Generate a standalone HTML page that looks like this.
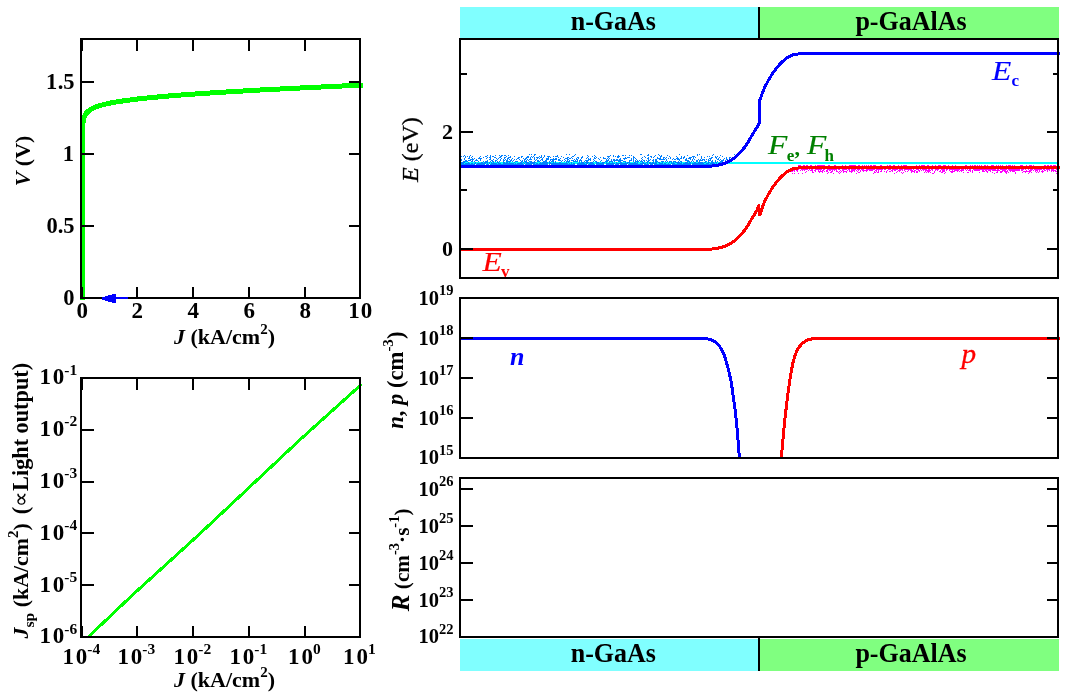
<!DOCTYPE html>
<html><head><meta charset="utf-8"><title>LED simulation</title>
<style>
html,body{margin:0;padding:0;background:#fff;}
svg{display:block;}
text{font-family:"Liberation Serif","Times New Roman",serif;}
.b{font-weight:bold;}
.i{font-style:italic;}
.ax{stroke:#000;stroke-width:2;fill:none;shape-rendering:crispEdges;}
</style></head><body>
<svg width="1065" height="696" viewBox="0 0 1065 696">
<rect width="1065" height="696" fill="#fff"/>
<line class="ax" x1="82" y1="39" x2="82" y2="51"/>
<line class="ax" x1="82" y1="287" x2="82" y2="298"/>
<line class="ax" x1="137" y1="39" x2="137" y2="51"/>
<line class="ax" x1="137" y1="287" x2="137" y2="298"/>
<line class="ax" x1="193" y1="39" x2="193" y2="51"/>
<line class="ax" x1="193" y1="287" x2="193" y2="298"/>
<line class="ax" x1="249" y1="39" x2="249" y2="51"/>
<line class="ax" x1="249" y1="287" x2="249" y2="298"/>
<line class="ax" x1="305" y1="39" x2="305" y2="51"/>
<line class="ax" x1="305" y1="287" x2="305" y2="298"/>
<line class="ax" x1="349" y1="82" x2="360" y2="82"/>
<line class="ax" x1="349" y1="154" x2="360" y2="154"/>
<line class="ax" x1="349" y1="226" x2="360" y2="226"/>
<path d="M82.5,300.0 L82.5,170.6 L82.5,170.0 L82.5,169.5 L82.5,168.9 L82.5,168.3 L82.5,167.8 L82.5,167.2 L82.5,166.7 L82.5,166.1 L82.5,165.6 L82.5,165.0 L82.5,164.4 L82.5,163.9 L82.5,163.3 L82.5,162.8 L82.5,162.2 L82.5,161.7 L82.5,161.1 L82.5,160.6 L82.5,160.0 L82.5,159.4 L82.5,158.9 L82.5,158.3 L82.5,157.8 L82.5,157.2 L82.5,156.7 L82.5,156.1 L82.5,155.5 L82.5,155.0 L82.5,154.4 L82.5,153.9 L82.5,153.3 L82.5,152.8 L82.5,152.2 L82.5,151.7 L82.5,151.1 L82.5,150.5 L82.5,150.0 L82.5,149.4 L82.5,148.9 L82.5,148.3 L82.5,147.8 L82.5,147.2 L82.5,146.6 L82.5,146.1 L82.5,145.5 L82.5,145.0 L82.5,144.4 L82.5,143.9 L82.5,143.3 L82.5,142.7 L82.5,142.2 L82.5,141.6 L82.5,141.1 L82.5,140.5 L82.5,140.0 L82.5,139.4 L82.5,138.9 L82.5,138.3 L82.5,137.7 L82.5,137.2 L82.5,136.6 L82.5,136.1 L82.5,135.5 L82.5,135.0 L82.5,134.4 L82.6,133.8 L82.6,133.3 L82.6,132.7 L82.6,132.2 L82.6,131.6 L82.6,131.1 L82.6,130.5 L82.6,129.9 L82.6,129.4 L82.7,128.8 L82.7,128.3 L82.7,127.7 L82.7,127.2 L82.7,126.6 L82.8,126.0 L82.8,125.5 L82.9,124.9 L82.9,124.4 L82.9,123.8 L83.0,123.3 L83.1,122.7 L83.1,122.1 L83.2,121.6 L83.3,121.0 L83.4,120.5 L83.5,119.9 L83.6,119.3 L83.7,118.8 L83.9,118.2 L84.1,117.7 L84.3,117.1 L84.5,116.5 L84.7,116.0 L85.0,115.4 L85.3,114.8 L85.6,114.3 L86.0,113.7 L86.4,113.1 L86.9,112.6 L87.5,112.0 L88.1,111.4 L88.7,110.9 L89.5,110.3 L90.4,109.7 L91.3,109.1 L92.4,108.5 L93.6,107.9 L95.0,107.4 L96.5,106.8 L98.2,106.2 L100.1,105.5 L102.3,104.9 L104.7,104.3 L107.4,103.7 L110.4,103.0 L113.8,102.4 L117.6,101.7 L121.9,101.1 L126.7,100.4 L132.1,99.7 L138.2,98.9 L145.0,98.2 L152.6,97.4 L161.1,96.7 L170.7,95.8 L181.5,95.0 L193.6,94.1 L207.1,93.2 L222.3,92.2 L239.4,91.2 L258.5,90.1 L280.0,89.0 L304.1,87.8 L331.2,86.5 L361.5,85.1 L363.0,85.0" fill="none" stroke="#00ff00" stroke-width="5" stroke-linejoin="round" stroke-linecap="butt" shape-rendering="crispEdges"/>
<line class="ax" x1="81" y1="82" x2="94" y2="82"/>
<line class="ax" x1="81" y1="154" x2="94" y2="154"/>
<line class="ax" x1="81" y1="226" x2="94" y2="226"/>
<line class="ax" x1="82" y1="39" x2="82" y2="51"/>
<line class="ax" x1="82" y1="287" x2="82" y2="298"/>
<rect class="ax" x="81" y="39" width="279" height="259"/>
<path d="M102,297h3v-1h3v-1h4v-1h4v3h12v2h-12v4h-4v-1h-4v-1h-3v-1h-3z" fill="#0000ff" shape-rendering="crispEdges"/>
<text class="b" x="74.5" y="304.8" font-size="22.5" text-anchor="end">0</text>
<text class="b" x="74.5" y="232.8" font-size="22.5" text-anchor="end">0.5</text>
<text class="b" x="74.5" y="160.8" font-size="22.5" text-anchor="end"><tspan letter-spacing="0.4">1</tspan></text>
<text class="b" x="74.5" y="88.8" font-size="22.5" text-anchor="end"><tspan letter-spacing="0.4">1</tspan>.5</text>
<text class="b" x="82.3" y="318.2" font-size="23" text-anchor="middle">0</text>
<text class="b" x="137.3" y="318.2" font-size="23" text-anchor="middle">2</text>
<text class="b" x="193.3" y="318.2" font-size="23" text-anchor="middle">4</text>
<text class="b" x="249.3" y="318.2" font-size="23" text-anchor="middle">6</text>
<text class="b" x="305.3" y="318.2" font-size="23" text-anchor="middle">8</text>
<text class="b" x="360.3" y="318.2" font-size="23" text-anchor="middle"><tspan letter-spacing="1">1</tspan>0</text>
<text class="b" x="224.5" y="344" font-size="22" text-anchor="middle"><tspan class="i">J</tspan> (kA/cm<tspan font-size="15" dy="-10.5">2</tspan><tspan dy="10.5">)</tspan></text>
<text class="b" transform="translate(29.7,161) rotate(-90)" font-size="22" text-anchor="middle"><tspan class="i">V</tspan> (V)</text>
<line class="ax" x1="82" y1="378" x2="82" y2="390"/>
<line class="ax" x1="82" y1="626" x2="82" y2="637"/>
<line class="ax" x1="137" y1="378" x2="137" y2="390"/>
<line class="ax" x1="137" y1="626" x2="137" y2="637"/>
<line class="ax" x1="193" y1="378" x2="193" y2="390"/>
<line class="ax" x1="193" y1="626" x2="193" y2="637"/>
<line class="ax" x1="249" y1="378" x2="249" y2="390"/>
<line class="ax" x1="249" y1="626" x2="249" y2="637"/>
<line class="ax" x1="305" y1="378" x2="305" y2="390"/>
<line class="ax" x1="305" y1="626" x2="305" y2="637"/>
<line class="ax" x1="81" y1="430" x2="94" y2="430"/>
<line class="ax" x1="349" y1="430" x2="360" y2="430"/>
<line class="ax" x1="81" y1="482" x2="94" y2="482"/>
<line class="ax" x1="349" y1="482" x2="360" y2="482"/>
<line class="ax" x1="81" y1="533" x2="94" y2="533"/>
<line class="ax" x1="349" y1="533" x2="360" y2="533"/>
<line class="ax" x1="81" y1="585" x2="94" y2="585"/>
<line class="ax" x1="349" y1="585" x2="360" y2="585"/>
<path d="M88.5,636.8 L131.5,595.9 L199.7,533.9 L300,439.7 L361.5,384.3" fill="none" stroke="#00ff00" stroke-width="3" shape-rendering="crispEdges"/>
<rect class="ax" x="81" y="378" width="279" height="259"/>
<text class="b" transform="translate(39.5,384.3) scale(1.0,1)" font-size="23" text-anchor="start"><tspan letter-spacing="1.8">1</tspan>0<tspan font-size="15.5" dy="-9.8">-1</tspan></text>
<text class="b" transform="translate(39.5,436.1) scale(1.0,1)" font-size="23" text-anchor="start"><tspan letter-spacing="1.8">1</tspan>0<tspan font-size="15.5" dy="-9.8">-2</tspan></text>
<text class="b" transform="translate(39.5,487.9) scale(1.0,1)" font-size="23" text-anchor="start"><tspan letter-spacing="1.8">1</tspan>0<tspan font-size="15.5" dy="-9.8">-3</tspan></text>
<text class="b" transform="translate(39.5,539.7) scale(1.0,1)" font-size="23" text-anchor="start"><tspan letter-spacing="1.8">1</tspan>0<tspan font-size="15.5" dy="-9.8">-4</tspan></text>
<text class="b" transform="translate(39.5,591.5) scale(1.0,1)" font-size="23" text-anchor="start"><tspan letter-spacing="1.8">1</tspan>0<tspan font-size="15.5" dy="-9.8">-5</tspan></text>
<text class="b" transform="translate(39.5,643.3) scale(1.0,1)" font-size="23" text-anchor="start"><tspan letter-spacing="1.8">1</tspan>0<tspan font-size="15.5" dy="-9.8">-6</tspan></text>
<text class="b" transform="translate(81.4,663.8) scale(1.0,1)" font-size="23" text-anchor="middle"><tspan letter-spacing="1.8">1</tspan>0<tspan font-size="15.5" dy="-9.8">-4</tspan></text>
<text class="b" transform="translate(136.4,663.8) scale(1.0,1)" font-size="23" text-anchor="middle"><tspan letter-spacing="1.8">1</tspan>0<tspan font-size="15.5" dy="-9.8">-3</tspan></text>
<text class="b" transform="translate(192.4,663.8) scale(1.0,1)" font-size="23" text-anchor="middle"><tspan letter-spacing="1.8">1</tspan>0<tspan font-size="15.5" dy="-9.8">-2</tspan></text>
<text class="b" transform="translate(248.4,663.8) scale(1.0,1)" font-size="23" text-anchor="middle"><tspan letter-spacing="1.8">1</tspan>0<tspan font-size="15.5" dy="-9.8">-1</tspan></text>
<text class="b" transform="translate(304.4,663.8) scale(1.0,1)" font-size="23" text-anchor="middle"><tspan letter-spacing="1.8">1</tspan>0<tspan font-size="15.5" dy="-9.8">0</tspan></text>
<text class="b" transform="translate(359.4,663.8) scale(1.0,1)" font-size="23" text-anchor="middle"><tspan letter-spacing="1.8">1</tspan>0<tspan font-size="15.5" dy="-9.8">1</tspan></text>
<text class="b" x="224.5" y="687" font-size="22" text-anchor="middle"><tspan class="i">J</tspan> (kA/cm<tspan font-size="15" dy="-10.5">2</tspan><tspan dy="10.5">)</tspan></text>
<text class="b" transform="translate(28,638.4) rotate(-90)" font-size="21.9"><tspan class="i">J</tspan><tspan font-size="15.5" dy="6">sp</tspan><tspan dy="-6"> (kA/cm</tspan><tspan font-size="15" dy="-10.5">2</tspan><tspan dy="10.5">)</tspan></text>
<text class="b" transform="translate(28,362.9) rotate(-90)" font-size="22.25" text-anchor="end">(<tspan font-weight="normal">∝</tspan>Light output)</text>
<rect x="460" y="7" width="299" height="31" fill="#80ffff"/>
<rect x="759" y="7" width="300" height="31" fill="#80ff80"/>
<line class="ax" x1="759" y1="7" x2="759" y2="39"/>
<text class="b" transform="translate(613.3,30.2) scale(1,1.06)" font-size="26" text-anchor="middle">n-GaAs</text>
<text class="b" transform="translate(911,30.2) scale(1,1.06)" font-size="26" text-anchor="middle">p-GaAlAs</text>
<rect x="460" y="639" width="299" height="32" fill="#80ffff"/>
<rect x="759" y="639" width="300" height="32" fill="#80ff80"/>
<line class="ax" x1="759" y1="637" x2="759" y2="671"/>
<text class="b" transform="translate(613.3,661.5) scale(1,1.06)" font-size="26" text-anchor="middle">n-GaAs</text>
<text class="b" transform="translate(911,661.5) scale(1,1.06)" font-size="26" text-anchor="middle">p-GaAlAs</text>
<line x1="460" y1="163" x2="1058" y2="163" stroke="#00ffff" stroke-width="2" shape-rendering="crispEdges"/>
<path d="M529,154.5h1M531,154.5h1M534,154.5h2M566,154.5h1M569,154.5h1M575,154.5h1M640,154.5h2M648,154.5h1M658,154.5h1M679,154.5h1M697,154.5h1M699,154.5h1M713,154.5h1M734,154.5h1M464,155.5h1M470,155.5h1M487,155.5h1M490,155.5h1M495,155.5h1M499,155.5h1M501,155.5h2M504,155.5h2M508,155.5h1M534,155.5h1M541,155.5h1M544,155.5h1M557,155.5h1M574,155.5h1M587,155.5h1M594,155.5h1M610,155.5h1M613,155.5h1M618,155.5h1M622,155.5h2M625,155.5h1M629,155.5h1M631,155.5h1M647,155.5h2M655,155.5h1M659,155.5h1M661,155.5h1M667,155.5h1M687,155.5h1M697,155.5h1M712,155.5h1M720,155.5h1M461,156.5h1M463,156.5h1M465,156.5h1M467,156.5h1M469,156.5h1M472,156.5h1M480,156.5h1M485,156.5h2M490,156.5h1M492,156.5h2M500,156.5h2M506,156.5h1M510,156.5h1M514,156.5h1M521,156.5h2M527,156.5h2M531,156.5h1M533,156.5h1M539,156.5h1M541,156.5h1M544,156.5h1M547,156.5h3M553,156.5h1M555,156.5h3M561,156.5h1M572,156.5h2M582,156.5h1M588,156.5h1M592,156.5h1M595,156.5h1M607,156.5h3M613,156.5h1M615,156.5h1M617,156.5h3M633,156.5h1M644,156.5h1M650,156.5h2M654,156.5h1M660,156.5h2M669,156.5h1M676,156.5h1M681,156.5h1M684,156.5h1M692,156.5h3M701,156.5h1M707,156.5h1M709,156.5h1M715,156.5h1M717,156.5h1M722,156.5h1M465,157.5h1M469,157.5h1M471,157.5h1M479,157.5h1M483,157.5h1M487,157.5h1M489,157.5h2M494,157.5h2M499,157.5h2M504,157.5h2M508,157.5h3M518,157.5h2M521,157.5h1M526,157.5h3M530,157.5h1M532,157.5h1M534,157.5h1M536,157.5h3M540,157.5h2M543,157.5h1M548,157.5h1M550,157.5h1M558,157.5h1M563,157.5h1M567,157.5h2M571,157.5h1M577,157.5h2M581,157.5h2M587,157.5h1M594,157.5h1M596,157.5h1M600,157.5h1M603,157.5h1M608,157.5h1M617,157.5h2M625,157.5h1M627,157.5h3M633,157.5h2M642,157.5h1M645,157.5h1M648,157.5h1M651,157.5h1M653,157.5h1M657,157.5h1M660,157.5h1M663,157.5h2M666,157.5h1M670,157.5h1M677,157.5h1M681,157.5h1M683,157.5h2M689,157.5h3M693,157.5h1M695,157.5h1M701,157.5h1M704,157.5h1M711,157.5h2M715,157.5h2M719,157.5h1M726,157.5h1M729,157.5h2M464,158.5h1M468,158.5h2M472,158.5h1M474,158.5h1M478,158.5h4M486,158.5h1M490,158.5h1M496,158.5h1M498,158.5h1M501,158.5h1M504,158.5h1M507,158.5h2M512,158.5h1M517,158.5h2M523,158.5h1M525,158.5h2M530,158.5h1M534,158.5h1M537,158.5h1M539,158.5h1M542,158.5h1M546,158.5h3M553,158.5h1M555,158.5h2M560,158.5h1M565,158.5h3M569,158.5h2M572,158.5h1M576,158.5h1M578,158.5h1M581,158.5h1M586,158.5h1M588,158.5h1M590,158.5h1M594,158.5h2M598,158.5h1M603,158.5h3M607,158.5h1M609,158.5h1M620,158.5h1M623,158.5h4M631,158.5h1M633,158.5h1M635,158.5h1M641,158.5h1M647,158.5h2M657,158.5h4M663,158.5h1M665,158.5h1M668,158.5h1M670,158.5h1M673,158.5h1M676,158.5h3M680,158.5h2M683,158.5h1M686,158.5h1M688,158.5h3M693,158.5h1M701,158.5h1M709,158.5h3M716,158.5h1M718,158.5h1M724,158.5h1M726,158.5h1M729,158.5h1M461,159.5h1M464,159.5h1M470,159.5h4M476,159.5h1M480,159.5h1M489,159.5h2M493,159.5h1M497,159.5h1M500,159.5h1M503,159.5h1M505,159.5h1M507,159.5h1M509,159.5h1M511,159.5h1M514,159.5h1M516,159.5h1M519,159.5h1M524,159.5h2M527,159.5h1M529,159.5h3M534,159.5h1M536,159.5h1M541,159.5h2M546,159.5h3M550,159.5h7M558,159.5h2M564,159.5h1M567,159.5h2M574,159.5h1M576,159.5h2M580,159.5h1M588,159.5h3M593,159.5h1M599,159.5h1M606,159.5h1M608,159.5h1M611,159.5h1M613,159.5h2M616,159.5h2M619,159.5h2M624,159.5h1M631,159.5h1M633,159.5h1M636,159.5h1M642,159.5h1M648,159.5h1M650,159.5h1M653,159.5h1M655,159.5h2M659,159.5h6M666,159.5h1M672,159.5h1M674,159.5h2M677,159.5h3M685,159.5h2M690,159.5h1M692,159.5h1M694,159.5h1M698,159.5h1M700,159.5h1M702,159.5h3M706,159.5h1M708,159.5h1M710,159.5h1M717,159.5h2M720,159.5h1M723,159.5h1M726,159.5h2M729,159.5h2M461,160.5h1M465,160.5h2M468,160.5h3M472,160.5h1M475,160.5h3M480,160.5h1M487,160.5h1M491,160.5h2M495,160.5h2M500,160.5h1M503,160.5h2M506,160.5h2M510,160.5h2M513,160.5h1M520,160.5h1M522,160.5h1M524,160.5h1M526,160.5h1M528,160.5h1M535,160.5h1M537,160.5h2M540,160.5h1M542,160.5h1M545,160.5h2M550,160.5h1M552,160.5h2M558,160.5h3M562,160.5h1M565,160.5h1M567,160.5h1M569,160.5h1M571,160.5h3M575,160.5h1M577,160.5h1M579,160.5h3M585,160.5h4M590,160.5h1M594,160.5h1M601,160.5h1M606,160.5h3M611,160.5h1M613,160.5h10M629,160.5h3M633,160.5h1M635,160.5h1M637,160.5h1M639,160.5h1M641,160.5h1M643,160.5h2M646,160.5h1M648,160.5h2M652,160.5h2M655,160.5h2M666,160.5h1M679,160.5h1M685,160.5h4M692,160.5h1M696,160.5h2M699,160.5h4M704,160.5h1M708,160.5h3M712,160.5h1M715,160.5h1M719,160.5h1M721,160.5h3M725,160.5h1M728,160.5h1M463,161.5h5M471,161.5h2M474,161.5h1M478,161.5h1M483,161.5h1M485,161.5h3M490,161.5h1M492,161.5h2M495,161.5h1M497,161.5h1M499,161.5h1M503,161.5h1M506,161.5h5M512,161.5h1M515,161.5h3M521,161.5h2M524,161.5h3M529,161.5h3M534,161.5h1M537,161.5h3M543,161.5h4M549,161.5h1M551,161.5h3M555,161.5h1M561,161.5h1M564,161.5h1M566,161.5h4M573,161.5h5M579,161.5h1M581,161.5h1M584,161.5h1M586,161.5h2M593,161.5h1M595,161.5h2M600,161.5h1M605,161.5h3M609,161.5h4M614,161.5h1M618,161.5h3M623,161.5h3M629,161.5h1M633,161.5h1M635,161.5h4M640,161.5h3M644,161.5h1M647,161.5h2M653,161.5h1M655,161.5h3M661,161.5h3M665,161.5h1M667,161.5h1M669,161.5h3M673,161.5h3M678,161.5h1M680,161.5h2M687,161.5h3M691,161.5h1M693,161.5h1M696,161.5h2M699,161.5h1M705,161.5h2M708,161.5h1M711,161.5h2M715,161.5h1M717,161.5h1M720,161.5h3M461,162.5h4M468,162.5h1M475,162.5h1M481,162.5h2M484,162.5h4M489,162.5h1M491,162.5h1M493,162.5h1M497,162.5h2M503,162.5h2M506,162.5h2M509,162.5h1M514,162.5h1M520,162.5h2M523,162.5h1M525,162.5h4M530,162.5h6M540,162.5h1M542,162.5h6M549,162.5h2M553,162.5h1M555,162.5h1M559,162.5h2M566,162.5h1M568,162.5h1M571,162.5h1M579,162.5h1M581,162.5h3M585,162.5h4M590,162.5h3M596,162.5h3M602,162.5h3M606,162.5h1M609,162.5h1M612,162.5h1M616,162.5h1M620,162.5h2M625,162.5h1M627,162.5h3M634,162.5h2M637,162.5h1M642,162.5h2M646,162.5h2M649,162.5h2M652,162.5h2M655,162.5h2M658,162.5h2M662,162.5h1M666,162.5h1M669,162.5h1M671,162.5h1M673,162.5h1M675,162.5h5M681,162.5h1M685,162.5h3M689,162.5h2M694,162.5h2M698,162.5h5M704,162.5h2M708,162.5h2M711,162.5h3M715,162.5h2M719,162.5h3M723,162.5h1M461,163.5h3M465,163.5h5M471,163.5h2M474,163.5h2M477,163.5h9M487,163.5h1M489,163.5h1M491,163.5h6M498,163.5h3M503,163.5h11M515,163.5h1M517,163.5h6M524,163.5h1M526,163.5h9M536,163.5h2M539,163.5h9M549,163.5h19M569,163.5h1M571,163.5h1M573,163.5h2M577,163.5h8M586,163.5h2M589,163.5h5M596,163.5h8M606,163.5h9M616,163.5h12M629,163.5h9M640,163.5h6M647,163.5h1M649,163.5h8M659,163.5h4M664,163.5h2M668,163.5h1M671,163.5h4M677,163.5h5M683,163.5h8M692,163.5h12M706,163.5h3M710,163.5h5M716,163.5h1M718,163.5h2M461,164.5h14M476,164.5h9M486,164.5h3M490,164.5h34M525,164.5h7M533,164.5h15M549,164.5h1M551,164.5h24M577,164.5h10M588,164.5h7M596,164.5h8M606,164.5h8M615,164.5h4M620,164.5h7M628,164.5h15M644,164.5h5M650,164.5h3M654,164.5h17M672,164.5h19M692,164.5h23" stroke="#0080ff" stroke-width="1" fill="none" shape-rendering="crispEdges"/>
<path d="M798,165.5h3M803,165.5h2M806,165.5h2M810,165.5h2M815,165.5h1M817,165.5h8M828,165.5h2M834,165.5h2M842,165.5h1M845,165.5h1M849,165.5h7M858,165.5h2M862,165.5h1M864,165.5h1M866,165.5h1M868,165.5h1M870,165.5h2M873,165.5h3M880,165.5h2M887,165.5h1M889,165.5h2M893,165.5h2M898,165.5h1M901,165.5h1M903,165.5h4M916,165.5h1M919,165.5h1M921,165.5h4M927,165.5h2M932,165.5h1M935,165.5h1M938,165.5h3M943,165.5h3M948,165.5h1M952,165.5h1M955,165.5h1M965,165.5h2M970,165.5h1M972,165.5h1M974,165.5h2M977,165.5h1M979,165.5h1M981,165.5h1M984,165.5h2M987,165.5h1M991,165.5h3M996,165.5h1M998,165.5h1M1000,165.5h1M1002,165.5h1M1006,165.5h1M1008,165.5h3M1012,165.5h1M1014,165.5h1M1020,165.5h3M1026,165.5h1M1029,165.5h3M1033,165.5h1M1044,165.5h2M1047,165.5h2M1050,165.5h2M1053,165.5h3M791,169.5h8M801,169.5h7M809,169.5h1M811,169.5h2M815,169.5h7M823,169.5h2M827,169.5h10M838,169.5h2M842,169.5h5M848,169.5h2M851,169.5h5M857,169.5h3M861,169.5h3M866,169.5h9M876,169.5h7M884,169.5h2M888,169.5h3M892,169.5h6M899,169.5h4M904,169.5h8M913,169.5h1M916,169.5h3M920,169.5h1M922,169.5h5M928,169.5h2M931,169.5h2M935,169.5h4M941,169.5h4M946,169.5h2M949,169.5h11M961,169.5h3M965,169.5h1M967,169.5h1M969,169.5h2M973,169.5h23M997,169.5h2M1000,169.5h7M1008,169.5h12M1021,169.5h3M1025,169.5h1M1028,169.5h1M1030,169.5h3M1034,169.5h8M1043,169.5h2M1046,169.5h4M1051,169.5h3M1056,169.5h1M790,170.5h1M792,170.5h3M796,170.5h2M800,170.5h1M802,170.5h1M804,170.5h1M808,170.5h1M810,170.5h3M814,170.5h2M818,170.5h1M820,170.5h1M822,170.5h2M826,170.5h2M829,170.5h2M832,170.5h1M834,170.5h1M836,170.5h1M840,170.5h1M842,170.5h2M847,170.5h1M849,170.5h1M851,170.5h4M856,170.5h1M858,170.5h1M860,170.5h1M862,170.5h6M869,170.5h4M875,170.5h2M878,170.5h1M881,170.5h1M887,170.5h1M891,170.5h2M894,170.5h2M898,170.5h3M902,170.5h1M904,170.5h1M908,170.5h1M910,170.5h3M914,170.5h2M918,170.5h2M921,170.5h1M923,170.5h1M925,170.5h6M932,170.5h1M935,170.5h1M937,170.5h1M940,170.5h1M942,170.5h3M946,170.5h1M949,170.5h1M952,170.5h1M954,170.5h5M960,170.5h4M966,170.5h1M968,170.5h3M972,170.5h1M974,170.5h6M982,170.5h2M985,170.5h2M988,170.5h3M992,170.5h8M1002,170.5h4M1007,170.5h1M1009,170.5h11M1021,170.5h2M1026,170.5h1M1029,170.5h3M1033,170.5h1M1035,170.5h3M1039,170.5h1M1042,170.5h1M1044,170.5h2M1047,170.5h1M1049,170.5h1M1051,170.5h5M791,171.5h2M794,171.5h1M797,171.5h1M806,171.5h1M812,171.5h1M815,171.5h1M818,171.5h5M824,171.5h1M826,171.5h2M831,171.5h2M836,171.5h2M839,171.5h1M841,171.5h1M843,171.5h4M849,171.5h4M854,171.5h1M857,171.5h1M860,171.5h1M863,171.5h1M866,171.5h1M874,171.5h1M876,171.5h1M878,171.5h1M880,171.5h2M884,171.5h1M886,171.5h1M889,171.5h2M892,171.5h1M897,171.5h1M899,171.5h1M905,171.5h1M907,171.5h1M911,171.5h4M916,171.5h2M919,171.5h1M925,171.5h1M927,171.5h3M934,171.5h1M939,171.5h2M942,171.5h3M950,171.5h5M957,171.5h1M959,171.5h1M961,171.5h1M970,171.5h1M972,171.5h1M982,171.5h3M986,171.5h2M990,171.5h1M997,171.5h1M1000,171.5h3M1004,171.5h4M1010,171.5h1M1012,171.5h3M1023,171.5h8M1035,171.5h1M1037,171.5h1M1039,171.5h1M1041,171.5h3M1047,171.5h1M1051,171.5h1M1053,171.5h1M1055,171.5h2M805,172.5h1M812,172.5h2M819,172.5h1M822,172.5h1M828,172.5h1M830,172.5h2M838,172.5h1M840,172.5h1M843,172.5h1M846,172.5h1M851,172.5h1M858,172.5h2M874,172.5h2M877,172.5h2M886,172.5h1M896,172.5h1M901,172.5h1M903,172.5h1M911,172.5h1M914,172.5h1M916,172.5h2M924,172.5h1M926,172.5h1M928,172.5h1M930,172.5h1M934,172.5h1M941,172.5h2M945,172.5h1M951,172.5h2M963,172.5h1M967,172.5h2M972,172.5h1M979,172.5h1M987,172.5h1M992,172.5h1M996,172.5h2M1000,172.5h2M1005,172.5h2M1008,172.5h1M1015,172.5h1M1022,172.5h1M1025,172.5h1M1029,172.5h1M1031,172.5h1M1036,172.5h1M1038,172.5h1M1042,172.5h1M792,173.5h1M794,173.5h1M798,173.5h1M802,173.5h1M827,173.5h1M833,173.5h1M839,173.5h1M856,173.5h1M873,173.5h1M894,173.5h1M902,173.5h1M932,173.5h2M944,173.5h1M994,173.5h1M1006,173.5h1M1015,173.5h1M1028,173.5h1M1056,173.5h1" stroke="#ff00ff" stroke-width="1" fill="none" shape-rendering="crispEdges"/>
<path d="M460,166.5 L690,166.5  L690.0,166.5 C691.7,166.5 697.3,166.5 700.0,166.5 C702.7,166.5 703.7,166.5 706.0,166.4 C708.3,166.3 711.2,166.2 714.0,165.8 C716.8,165.4 719.8,164.8 722.5,164.0 C725.2,163.2 727.5,162.3 730.0,160.9 C732.5,159.5 734.9,157.6 737.4,155.3 C739.9,153.0 742.4,150.3 744.9,146.9 C747.4,143.5 750.4,138.0 752.4,134.7 C754.4,131.4 755.8,129.2 757.0,127.2 C758.2,125.2 759.1,123.4 759.5,122.6 L759.5,101.0 C760.2,99.2 762.3,93.0 763.6,89.9 C764.9,86.8 765.8,85.2 767.3,82.4 C768.8,79.6 771.0,75.8 772.9,73.0 C774.8,70.2 776.7,67.8 778.6,65.6 C780.5,63.4 782.3,61.6 784.2,60.0 C786.1,58.4 787.9,57.2 789.8,56.2 C791.7,55.2 793.2,54.7 795.4,54.3 C797.6,53.9 800.5,53.7 802.9,53.6 C805.3,53.5 807.1,53.5 810.0,53.5 C812.9,53.5 818.3,53.5 820.0,53.5 L1060,53.5" fill="none" stroke="#0000ff" stroke-width="3" stroke-linejoin="round" shape-rendering="crispEdges"/>
<path d="M460,249.5 L690,249.5  L690.0,249.5 C691.7,249.5 697.3,249.5 700.0,249.5 C702.7,249.5 703.7,249.5 706.0,249.4 C708.3,249.3 711.2,249.2 714.0,248.8 C716.8,248.4 719.8,247.8 722.5,247.0 C725.2,246.2 727.5,245.3 730.0,243.9 C732.5,242.5 734.9,240.6 737.4,238.3 C739.9,236.0 742.4,233.3 744.9,229.9 C747.4,226.5 750.4,221.0 752.4,217.7 C754.4,214.4 756.0,212.2 757.0,210.2 C758.0,208.2 758.3,206.4 758.6,205.6 L759.8,215.0 C760.4,213.2 762.4,207.0 763.6,203.9 C764.9,200.8 765.8,199.2 767.3,196.4 C768.8,193.6 771.0,189.8 772.9,187.0 C774.8,184.2 776.7,181.8 778.6,179.6 C780.5,177.4 782.3,175.6 784.2,174.0 C786.1,172.4 787.9,171.1 789.8,170.2 C791.7,169.2 793.2,168.7 795.4,168.3 C797.6,167.9 800.5,167.7 802.9,167.6 C805.3,167.5 807.1,167.5 810.0,167.5 C812.9,167.5 818.3,167.5 820.0,167.5 L1060,167.5" fill="none" stroke="#ff0000" stroke-width="3" stroke-linejoin="round" shape-rendering="crispEdges"/>
<rect class="ax" x="460" y="39" width="598" height="239"/>
<line class="ax" x1="460" y1="74" x2="467" y2="74"/>
<line class="ax" x1="1053" y1="74" x2="1058" y2="74"/>
<line class="ax" x1="460" y1="132" x2="473" y2="132"/>
<line class="ax" x1="1047" y1="132" x2="1058" y2="132"/>
<line class="ax" x1="460" y1="190" x2="467" y2="190"/>
<line class="ax" x1="1053" y1="190" x2="1058" y2="190"/>
<line class="ax" x1="460" y1="249" x2="473" y2="249"/>
<line class="ax" x1="1047" y1="249" x2="1058" y2="249"/>
<text class="b" x="453" y="138.5" font-size="22" text-anchor="end">2</text>
<text class="b" x="453" y="255.5" font-size="22" text-anchor="end">0</text>
<text transform="translate(418,149.6) rotate(-90)" font-size="24" text-anchor="middle" stroke="#000" stroke-width="0.3"><tspan class="i">E</tspan> (eV)</text>
<text class="i" transform="translate(482.6,271) scale(1.17,1)" font-size="27" fill="#ff0000" stroke="#ff0000" stroke-width="0.15">E</text>
<text class="b" x="501" y="276.7" font-size="17" fill="#ff0000">v</text>
<text class="i" transform="translate(992,80) scale(1.17,1)" font-size="27" fill="#0000ff" stroke="#0000ff" stroke-width="0.15">E</text>
<text class="b" x="1011.5" y="86" font-size="17" fill="#0000ff">c</text>
<text class="i" transform="translate(768,154) scale(1.17,1)" font-size="27" fill="#008000" stroke="#008000" stroke-width="0.15">F</text>
<text class="b" x="786.7" y="160.5" font-size="17" fill="#008000">e</text>
<text class="b" x="794.5" y="155" font-size="22" fill="#008000">,</text>
<text class="i" transform="translate(806.9,154) scale(1.17,1)" font-size="27" fill="#008000" stroke="#008000" stroke-width="0.15">F</text>
<text class="b" x="824.5" y="160.5" font-size="17" fill="#008000">h</text>
<line x1="460" y1="338.5" x2="696" y2="338.5" stroke="#0000ff" stroke-width="3" shape-rendering="crispEdges"/>
<path d="M690.0,338.5 C691.0,338.5 694.4,338.5 696.0,338.5 C697.6,338.5 697.3,338.5 699.4,338.6 C701.5,338.7 705.8,338.6 708.4,339.1 C711.0,339.6 713.0,340.4 714.9,341.7 C716.8,343.0 718.4,344.5 720.0,346.9 C721.6,349.3 723.2,352.5 724.5,355.9 C725.8,359.3 726.7,363.4 727.8,367.5 C728.9,371.6 729.9,375.3 730.9,380.5 C731.9,385.7 732.7,393.0 733.5,398.6 C734.3,404.2 734.9,408.0 735.6,414.0 C736.3,420.0 737.0,427.4 737.6,434.7 C738.2,442.0 739.1,454.1 739.4,458.0" fill="none" stroke="#0000ff" stroke-width="3" stroke-linejoin="round" shape-rendering="crispEdges"/>
<path d="M781.3,458.0 C781.6,454.1 782.7,442.0 783.4,434.7 C784.1,427.4 784.7,420.9 785.5,414.0 C786.3,407.1 787.1,399.8 788.0,393.4 C788.9,386.9 789.6,380.9 790.6,375.3 C791.6,369.7 792.5,364.1 793.7,359.8 C794.9,355.5 796.1,352.2 797.6,349.4 C799.1,346.6 801.1,344.6 802.8,343.0 C804.5,341.4 806.1,340.6 808.0,339.9 C809.9,339.2 812.4,338.8 814.4,338.6 C816.4,338.4 818.1,338.5 820.0,338.5 C821.9,338.5 825.0,338.5 826.0,338.5" fill="none" stroke="#ff0000" stroke-width="3" stroke-linejoin="round" shape-rendering="crispEdges"/>
<line x1="820" y1="338.5" x2="1060" y2="338.5" stroke="#ff0000" stroke-width="3" shape-rendering="crispEdges"/>
<rect class="ax" x="460" y="298" width="598" height="160"/>
<line class="ax" x1="460" y1="338" x2="473" y2="338"/>
<line class="ax" x1="1047" y1="338" x2="1058" y2="338"/>
<line class="ax" x1="460" y1="378" x2="473" y2="378"/>
<line class="ax" x1="1047" y1="378" x2="1058" y2="378"/>
<line class="ax" x1="460" y1="418" x2="473" y2="418"/>
<line class="ax" x1="1047" y1="418" x2="1058" y2="418"/>
<text class="b" transform="translate(418.5,304.6) scale(1.0,1)" font-size="20.5" text-anchor="start">10<tspan font-size="14.5" dy="-9.8">19</tspan></text>
<text class="b" transform="translate(418.5,344.6) scale(1.0,1)" font-size="20.5" text-anchor="start">10<tspan font-size="14.5" dy="-9.8">18</tspan></text>
<text class="b" transform="translate(418.5,384.6) scale(1.0,1)" font-size="20.5" text-anchor="start">10<tspan font-size="14.5" dy="-9.8">17</tspan></text>
<text class="b" transform="translate(418.5,424.6) scale(1.0,1)" font-size="20.5" text-anchor="start">10<tspan font-size="14.5" dy="-9.8">16</tspan></text>
<text class="b" transform="translate(418.5,464.3) scale(1.0,1)" font-size="20.5" text-anchor="start">10<tspan font-size="14.5" dy="-9.8">15</tspan></text>
<text class="b i" x="510" y="365" font-size="26" fill="#0000ff">n</text>
<text class="i" transform="translate(961.5,362.5) scale(1.08,1)" font-size="27" fill="#ff0000" stroke="#ff0000" stroke-width="0.3">p</text>
<text class="b" transform="translate(403.3,380.2) rotate(-90)" font-size="22.6" text-anchor="middle"><tspan class="i">n</tspan>, <tspan class="i">p</tspan> (cm<tspan font-size="15" dy="-10">-3</tspan><tspan dy="10">)</tspan></text>
<rect class="ax" x="460" y="478" width="598" height="159"/>
<line class="ax" x1="460" y1="489" x2="473" y2="489"/>
<line class="ax" x1="1047" y1="489" x2="1058" y2="489"/>
<text class="b" transform="translate(418.5,496.0) scale(1.0,1)" font-size="20.5" text-anchor="start">10<tspan font-size="14.5" dy="-9.8">26</tspan></text>
<line class="ax" x1="460" y1="526" x2="473" y2="526"/>
<line class="ax" x1="1047" y1="526" x2="1058" y2="526"/>
<text class="b" transform="translate(418.5,532.9) scale(1.0,1)" font-size="20.5" text-anchor="start">10<tspan font-size="14.5" dy="-9.8">25</tspan></text>
<line class="ax" x1="460" y1="563" x2="473" y2="563"/>
<line class="ax" x1="1047" y1="563" x2="1058" y2="563"/>
<text class="b" transform="translate(418.5,569.8) scale(1.0,1)" font-size="20.5" text-anchor="start">10<tspan font-size="14.5" dy="-9.8">24</tspan></text>
<line class="ax" x1="460" y1="600" x2="473" y2="600"/>
<line class="ax" x1="1047" y1="600" x2="1058" y2="600"/>
<text class="b" transform="translate(418.5,606.7) scale(1.0,1)" font-size="20.5" text-anchor="start">10<tspan font-size="14.5" dy="-9.8">23</tspan></text>
<text class="b" transform="translate(418.5,643.3) scale(1.0,1)" font-size="20.5" text-anchor="start">10<tspan font-size="14.5" dy="-9.8">22</tspan></text>
<text class="b" transform="translate(409,559.8) rotate(-90)" font-size="21.2" text-anchor="middle"><tspan class="i" font-size="25">R</tspan> (cm<tspan font-size="14.5" dy="-10.5">-3</tspan><tspan dy="10.5">·s</tspan><tspan font-size="14.5" dy="-10.5">-1</tspan><tspan dy="10.5">)</tspan></text>
</svg>
</body></html>
